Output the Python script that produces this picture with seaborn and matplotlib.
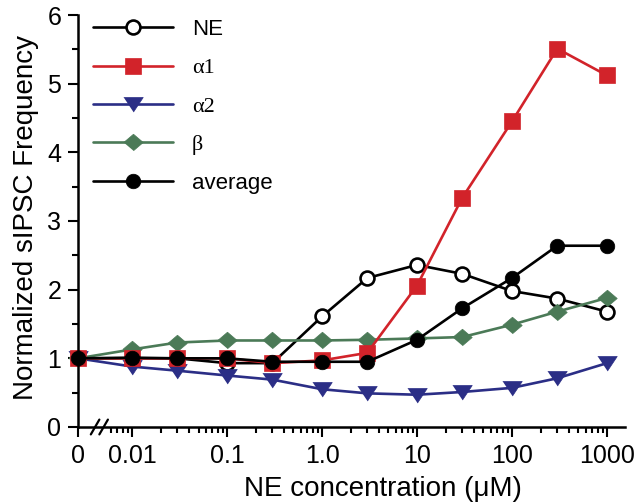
import numpy as np
import pandas as pd
import matplotlib
matplotlib.use("Agg")
import matplotlib.pyplot as plt
import matplotlib.transforms as mtransforms
from matplotlib.lines import Line2D
import seaborn as sns

# ---------------- data ----------------
conc = [0, 0.01, 0.03, 0.1, 0.3, 1, 3, 10, 30, 100, 300, 1000]
ne = [1.0, 1.0, 1.0, 0.93, 0.93, 1.61, 2.17, 2.36, 2.23, 1.98, 1.87, 1.68]
alpha1 = [1.0, 1.0, 1.0, 1.0, 0.93, 0.97, 1.08, 2.06, 3.34, 4.45, 5.51, 5.12]
alpha2 = [1.0, 0.88, 0.82, 0.75, 0.69, 0.55, 0.49, 0.47, 0.51, 0.57, 0.71, 0.93]
beta = [1.0, 1.13, 1.23, 1.26, 1.26, 1.26, 1.27, 1.29, 1.31, 1.49, 1.68, 1.88]
average = [1.0, 1.01, 1.0, 1.0, 0.95, 0.95, 0.95, 1.27, 1.73, 2.17, 2.64, 2.64]

series_names = ["NE", "α1", "α2", "β", "average"]
x_tick_labels = ["0", "0.01", "0.1", "1.0", "10", "100", "1000"]
x_tick_values = [0, 0.01, 0.1, 1, 10, 100, 1000]
y_ticks = [0, 1, 2, 3, 4, 5, 6]

ZERO_POS = -2.57  # axis position used for the control (0) concentration


def xpos(c):
    return np.log10(c) if c > 0 else ZERO_POS


rows = []
for name, vals in zip(series_names, [ne, alpha1, alpha2, beta, average]):
    for c, v in zip(conc, vals):
        rows.append({"series": name, "pos": xpos(c), "value": v})
df = pd.DataFrame(rows)

# ---------------- style ----------------
sns.set_theme(style="ticks")
plt.rcParams["font.family"] = ["Liberation Sans", "DejaVu Sans"]

RED = "#d2232a"
BLUE = "#2b2e86"
GREEN = "#4b7a57"
BLACK = "#000000"

tri = [(-1, 0.72), (1, 0.72), (0, -0.78)]
dia = [(-1, 0), (0, 0.85), (1, 0), (0, -0.85)]

styles = {
    "NE": dict(color=BLACK, marker="o", markersize=10, markerfacecolor="white",
               markeredgecolor=BLACK, markeredgewidth=1.9),
    "α1": dict(color=RED, marker="s", markersize=11.5, markerfacecolor=RED,
               markeredgecolor=RED, markeredgewidth=0.5),
    "α2": dict(color=BLUE, marker=tri, markersize=14, markerfacecolor=BLUE,
               markeredgecolor=BLUE, markeredgewidth=0.5),
    "β": dict(color=GREEN, marker=dia, markersize=14, markerfacecolor=GREEN,
              markeredgecolor=GREEN, markeredgewidth=0.5),
    "average": dict(color=BLACK, marker="o", markersize=10.5, markerfacecolor=BLACK,
                    markeredgecolor=BLACK, markeredgewidth=0.5),
}
draw_order = ["NE", "α2", "β", "α1", "average"]

fig = plt.figure(figsize=(6.43, 5.04), dpi=100)
W, H = 643, 504
left_px, right_px, top_px, bottom_px = 78, 625, 15, 427
ax = fig.add_axes([left_px / W, 1 - bottom_px / H,
                   (right_px - left_px) / W, (bottom_px - top_px) / H])

for name in draw_order:
    sub = df[df["series"] == name]
    sns.lineplot(data=sub, x="pos", y="value", ax=ax, linewidth=1.9,
                 legend=False, sort=True, estimator=None, clip_on=False,
                 **styles[name])

ax.set_xlim(ZERO_POS, 3.19)
ax.set_ylim(0, 6)

# ticks
ax.set_xticks([xpos(v) for v in x_tick_values])
ax.set_xticklabels(x_tick_labels)
minor = []
for dec in [-3, -2, -1, 0, 1, 2]:
    for k in range(2, 10):
        v = k * 10.0 ** dec
        if 0.0055 < v < 1000:
            minor.append(np.log10(v))
ax.set_xticks(minor, minor=True)
ax.set_yticks(y_ticks)
ax.set_yticks(np.arange(0.5, 6, 1.0), minor=True)

ax.tick_params(axis="both", which="major", direction="out", length=7, width=1.5,
               labelsize=18, color="black", labelcolor="black", pad=5)
ax.tick_params(axis="both", which="minor", direction="out", length=4, width=1.5,
               color="black")

for s in ["top", "right"]:
    ax.spines[s].set_visible(False)
for s in ["left", "bottom"]:
    ax.spines[s].set_linewidth(1.8)
    ax.spines[s].set_color("black")

ax.set_xlabel("")
ax.set_ylabel("")
fig.text(26 / W, 1 - 217 / H, "Normalized sIPSC Frequency", rotation=90,
         ha="center", va="center", fontsize=20, color="black")
fig.text(383 / W, 1 - 489 / H, "NE concentration (μM)", ha="center",
         va="center", fontsize=20, color="black")

# axis break marks
trans = mtransforms.blended_transform_factory(ax.transData, ax.transAxes)
for xb in [-2.39, -2.30]:
    ax.plot([xb - 0.045, xb + 0.045], [-0.018, 0.018], color="black",
            linewidth=1.6, transform=trans, clip_on=False)

# legend
legend_order = ["NE", "α1", "α2", "β", "average"]
handles = []
for name in legend_order:
    st = dict(styles[name])
    handles.append(Line2D([0], [0], linewidth=1.9, **st))
leg = ax.legend(handles, legend_order, loc="upper left",
                bbox_to_anchor=(0.027, 0.99), frameon=False, fontsize=16,
                handlelength=3.6, handletextpad=0.85, labelspacing=0.80,
                borderpad=0, borderaxespad=0)
for t in leg.get_texts():
    t.set_color("black")
    if t.get_text() in ("α1", "α2", "β"):
        t.set_fontfamily(["Liberation Serif", "DejaVu Serif"])

fig.savefig("out.png", dpi=100, facecolor="white")
